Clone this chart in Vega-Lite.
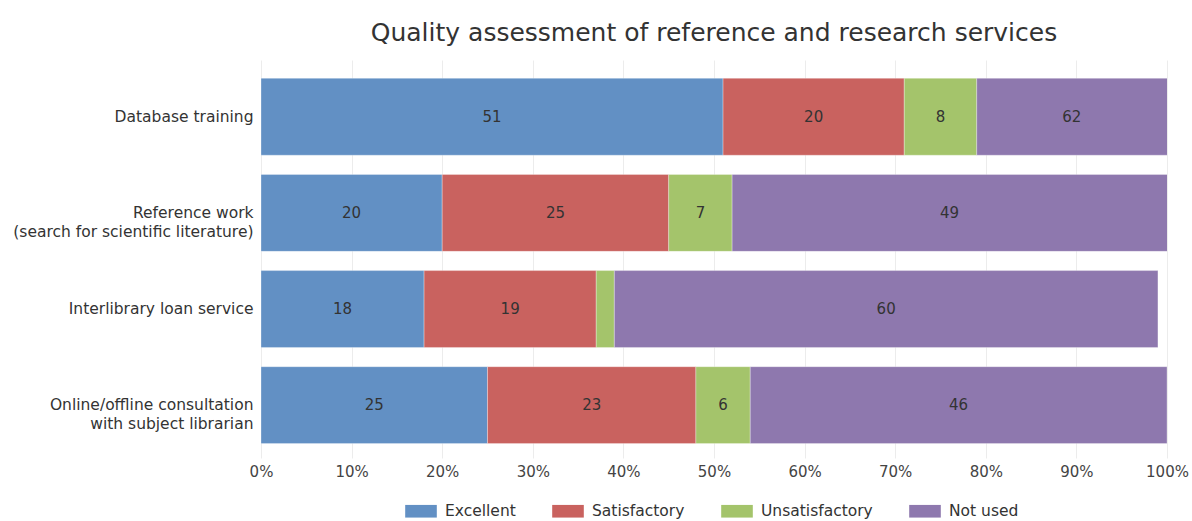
{
  "$schema": "https://vega.github.io/schema/vega-lite/v6.json",
  "width": 906,
  "height": 398,
  "autosize": {"type": "none"},
  "padding": {"left": 261, "top": 60, "right": 25, "bottom": 63},
  "background": "white",
  "config": {"font": "DejaVu Sans", "view": {"stroke": null}},
  "title": {"text": "Quality assessment of reference and research services", "fontSize": 25, "fontWeight": "normal", "color": "#333333", "anchor": "middle", "offset": 14},
  "data": {"values": [
    {"service": "Database training", "category": "Excellent", "order": 1, "value": 51},
    {"service": "Database training", "category": "Satisfactory", "order": 2, "value": 20},
    {"service": "Database training", "category": "Unsatisfactory", "order": 3, "value": 8},
    {"service": "Database training", "category": "Not used", "order": 4, "value": 62},
    {"service": "Reference work\n(search for scientific literature)", "category": "Excellent", "order": 1, "value": 20},
    {"service": "Reference work\n(search for scientific literature)", "category": "Satisfactory", "order": 2, "value": 25},
    {"service": "Reference work\n(search for scientific literature)", "category": "Unsatisfactory", "order": 3, "value": 7},
    {"service": "Reference work\n(search for scientific literature)", "category": "Not used", "order": 4, "value": 49},
    {"service": "Interlibrary loan service", "category": "Excellent", "order": 1, "value": 18},
    {"service": "Interlibrary loan service", "category": "Satisfactory", "order": 2, "value": 19},
    {"service": "Interlibrary loan service", "category": "Unsatisfactory", "order": 3, "value": 2},
    {"service": "Interlibrary loan service", "category": "Not used", "order": 4, "value": 60},
    {"service": "Online/offline consultation\nwith subject librarian", "category": "Excellent", "order": 1, "value": 25},
    {"service": "Online/offline consultation\nwith subject librarian", "category": "Satisfactory", "order": 2, "value": 23},
    {"service": "Online/offline consultation\nwith subject librarian", "category": "Unsatisfactory", "order": 3, "value": 6},
    {"service": "Online/offline consultation\nwith subject librarian", "category": "Not used", "order": 4, "value": 46}
  ]},
  "transform": [
    {"stack": "value", "groupby": ["service"], "sort": [{"field": "order", "order": "ascending"}], "as": ["x0", "x1"]},
    {"calculate": "(datum.x0 + min(datum.x1, 100)) / 2", "as": "mid"}
  ],
  "encoding": {
    "y": {
      "field": "service", "type": "nominal",
      "sort": ["Database training", "Reference work\n(search for scientific literature)", "Interlibrary loan service", "Online/offline consultation\nwith subject librarian"],
      "scale": {"paddingInner": 0.2, "paddingOuter": 0.17, "align": 0.56},
      "axis": {"title": null, "domain": false, "ticks": false, "labelFontSize": 15.5, "labelColor": "#333333", "labelPadding": 8, "labelLimit": 300, "labelLineHeight": 19, "labelExpr": "split(datum.label, '\\n')"}
    }
  },
  "layer": [
    {
      "mark": {"type": "bar", "clip": true, "stroke": "white", "strokeWidth": 0.6, "strokeOpacity": 0.5},
      "encoding": {
        "x": {"field": "x0", "type": "quantitative", "scale": {"domain": [0, 100], "nice": false},
          "axis": {"title": null, "values": [0, 10, 20, 30, 40, 50, 60, 70, 80, 90, 100], "labelExpr": "datum.value + '%'", "labelFlush": false, "grid": true, "gridColor": "#ececec", "domain": false, "ticks": false, "labelFontSize": 15, "labelColor": "#444444", "labelPadding": 6}},
        "x2": {"field": "x1"},
        "color": {
          "field": "category", "type": "nominal",
          "scale": {"domain": ["Excellent", "Satisfactory", "Unsatisfactory", "Not used"], "range": ["#6290c4", "#c9625f", "#a4c46b", "#8e78ae"]},
          "legend": {"title": null, "orient": "none", "legendX": 144, "legendY": 435, "padding": 0, "direction": "horizontal", "labelFontSize": 15.5, "labelColor": "#333333", "symbolType": "M-1,-0.4H1V0.4H-1Z", "symbolSize": 1000, "symbolStrokeWidth": 0, "symbolOpacity": 1, "labelOffset": 8, "columnPadding": 36}
        }
      }
    },
    {
      "transform": [{"filter": "datum.value >= 5"}],
      "mark": {"type": "text", "fontSize": 15, "color": "#333333", "align": "center", "baseline": "middle"},
      "encoding": {
        "x": {"field": "mid", "type": "quantitative"},
        "text": {"field": "value", "type": "quantitative"}
      }
    }
  ]
}
